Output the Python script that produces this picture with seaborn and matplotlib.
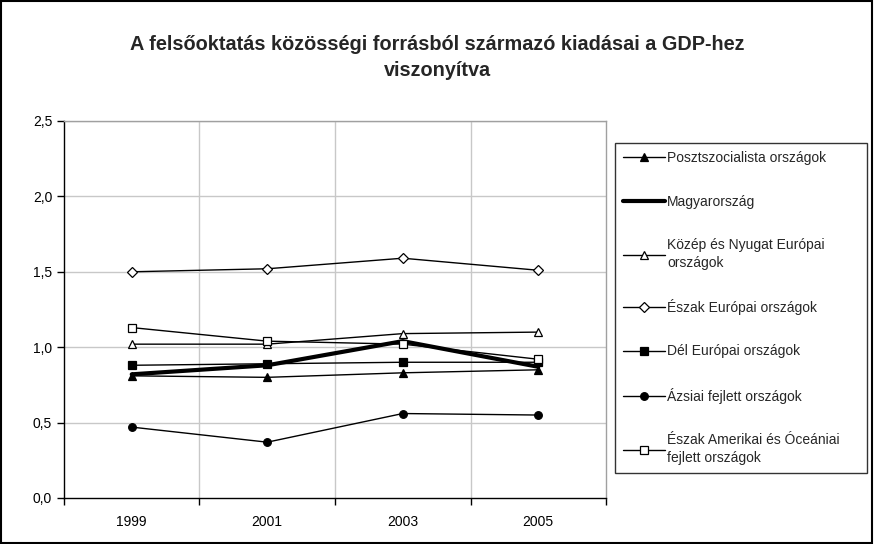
import numpy as np
import pandas as pd
import matplotlib
matplotlib.use("Agg")
import matplotlib.pyplot as plt
import seaborn as sns
from matplotlib.patches import Rectangle
from matplotlib.ticker import FuncFormatter

years = ["1999", "2001", "2003", "2005"]

poszt = [0.81, 0.80, 0.83, 0.85]
magyar = [0.82, 0.88, 1.04, 0.87]
kozep = [1.02, 1.02, 1.09, 1.10]
eszak_eu = [1.50, 1.52, 1.59, 1.51]
del_eu = [0.88, 0.89, 0.90, 0.90]
azsia = [0.47, 0.37, 0.56, 0.55]
eszak_am = [1.13, 1.04, 1.02, 0.92]

series_names = [
    "Posztszocialista országok",
    "Magyarország",
    "Közép és Nyugat Európai\nországok",
    "Észak Európai országok",
    "Dél Európai országok",
    "Ázsiai fejlett országok",
    "Észak Amerikai és Óceániai\nfejlett országok",
]
series_values = [poszt, magyar, kozep, eszak_eu, del_eu, azsia, eszak_am]

# marker, facecolor, marker size, line width
styles = [
    ("^", "black", 6, 1.0),
    (None, "black", 0, 3.0),
    ("^", "white", 6, 1.0),
    ("D", "white", 5, 1.0),
    ("s", "black", 5.5, 1.0),
    ("o", "black", 5.5, 1.0),
    ("s", "white", 5.5, 1.0),
]

sns.set_theme(style="white")
plt.rcParams["font.family"] = ["Liberation Sans", "DejaVu Sans"]

fig = plt.figure(figsize=(8.74, 5.44), dpi=100)
ax = fig.add_axes([0.0732, 0.0846, 0.6202, 0.693])

xpos = np.arange(len(years))
for name, vals, (mk, fc, ms, lw) in zip(series_names, series_values, styles):
    df = pd.DataFrame({"x": xpos, "y": vals})
    sns.lineplot(data=df, x="x", y="y", ax=ax, color="black", linewidth=lw,
                 marker=mk if mk else None, markersize=ms,
                 markerfacecolor=fc, markeredgecolor="black",
                 markeredgewidth=0.9, label=name)

ax.set_xlim(-0.5, len(years) - 0.5)
ax.set_ylim(0, 2.5)
ax.set_yticks(np.arange(0, 2.51, 0.5))
ax.yaxis.set_major_formatter(FuncFormatter(lambda v, p: f"{v:.1f}".replace(".", ",")))
ax.set_xticks(xpos)
ax.set_xticklabels(years)
ax.set_xticks(np.arange(-0.5, len(years), 1.0), minor=True)
ax.tick_params(axis="x", which="major", length=0, labelsize=10, pad=12, colors="black")
ax.tick_params(axis="x", which="minor", length=5, width=1, color="black", direction="out")
ax.tick_params(axis="y", length=5, width=1, color="black", direction="out", labelsize=10, colors="black")
ax.xaxis.set_tick_params(bottom=True, which="minor")
ax.yaxis.set_tick_params(left=True)
ax.set_xlabel("")
ax.set_ylabel("")

ax.grid(False)
for v in np.arange(0.5, 2.51, 0.5):
    ax.axhline(v, color="#c8c8c8", linewidth=1, zorder=0)
for v in np.arange(0.5, len(years) - 0.5, 1.0):
    ax.axvline(v, color="#c8c8c8", linewidth=1, zorder=0)

ax.spines["left"].set_color("black")
ax.spines["bottom"].set_color("black")
ax.spines["top"].set_color("#a0a0a0")
ax.spines["right"].set_color("#a0a0a0")
for s in ax.spines.values():
    s.set_linewidth(1)

ax.get_legend().remove()
handles, labels = ax.get_legend_handles_labels()
leg = fig.legend(handles, labels, loc="upper left",
                 bbox_to_anchor=(615 / 874, 1 - 470 / 544, 252 / 874, 327 / 544),
                 mode="expand",
                 frameon=True, fancybox=False, edgecolor="black",
                 fontsize=10, handlelength=3.0, handletextpad=0.15,
                 labelspacing=2.1, borderpad=0.6, borderaxespad=0)
leg.get_frame().set_linewidth(1)
for t in leg.get_texts():
    t.set_linespacing(1.4)

fig.text(0.5, 1 - 45 / 544, "A felsőoktatás közösségi forrásból származó kiadásai a GDP-hez",
         ha="center", va="center", fontsize=14.3, fontweight="bold")
fig.text(0.5, 1 - 71 / 544, "viszonyítva",
         ha="center", va="center", fontsize=14.3, fontweight="bold")

fig.patches.append(Rectangle((0.001, 0.001), 0.997, 0.997, transform=fig.transFigure,
                             fill=False, edgecolor="black", linewidth=1.5))

fig.savefig("out.png", dpi=100, facecolor="white")
